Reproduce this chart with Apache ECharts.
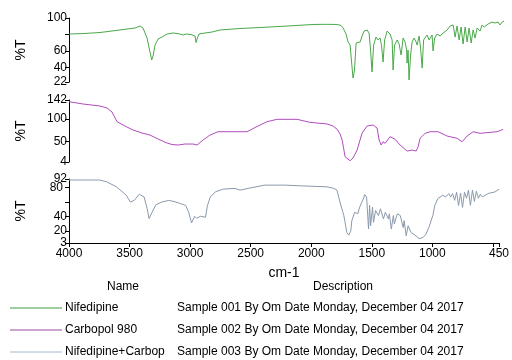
<!DOCTYPE html>
<html>
<head>
<meta charset="utf-8">
<script src="https://cdn.jsdelivr.net/npm/echarts@6/dist/echarts.min.js"></script>
<style>
  html, body { margin: 0; padding: 0; background: #fff; }
  #chart { width: 512px; height: 360px; }
</style>
</head>
<body>
<div id="chart"></div>
<script>
// FTIR spectra, wavenumber (cm-1) vs transmittance (%T)
const nifedipineWn = [4000,3886,3747,3584,3461,3420,3396,3363,3339,3325,3314,3298,3273,3241,3200,3151,3110,3069,3045,3029,3004,2988,2971,2963,2955,2939,2890,2833,2767,2604,2441,2220,2008,1910,1812,1780,1763,1739,1722,1706,1694,1682,1670,1657,1641,1624,1608,1592,1567,1551,1539,1527,1514,1494,1478,1461,1449,1437,1424,1404,1380,1363,1355,1343,1322,1306,1290,1273,1257,1245,1241,1233,1225,1212,1200,1184,1167,1159,1143,1131,1118,1106,1078,1061,1037,1029,1016,996,971,947,914,890,865,849,833,816,800,784,767,751,735,718,702,686,669,645,629,612,596,580,547,522,498,482,465,450];
const nifedipineT = [80.5,81,82.3,85.4,87.8,90.2,87.8,75.6,58.5,48.8,53.7,67,74.4,76.8,80.5,81.7,81,79.3,80.5,81.7,79.9,80.5,78,70,74.4,80.5,81.7,82.9,85.4,87.2,88.4,90.2,92.1,92.3,92.1,90.9,87.8,80.5,70.7,67,46.3,26.8,36.6,69.5,69.5,70.7,78,84.1,85.4,81.7,61,34.1,67,76.8,73.2,75.6,65.9,46.3,73.2,84.1,80.5,73.2,36.6,67,73.2,68.3,54.9,75.6,70.7,61,45.1,61,24.4,54.9,70.7,75.6,70.7,67,78,63.4,39,73.2,79.3,73.2,79.3,59.8,75.6,80.5,78,81.7,85.4,90.2,91.5,76.8,90.2,73.2,89,68.3,89,70.7,87.8,69.5,85.4,75.6,87.8,84.1,91.5,89,86.6,92.7,95.1,93.9,95.1,91.5,95.1,96.3];

const carbopolWn = [4000,3886,3747,3690,3649,3608,3543,3478,3404,3339,3273,3200,3159,3110,3053,2988,2955,2906,2849,2784,2547,2465,2384,2302,2139,2033,1894,1845,1812,1788,1771,1759,1747,1731,1706,1682,1649,1608,1567,1518,1486,1469,1453,1437,1420,1380,1339,1298,1241,1200,1167,1151,1135,1094,1053,988,914,833,792,751,702,645,588,506,457];
const carbopolT = [138.2,133.1,128.6,124.2,115.3,93.7,84.1,75.2,68.5,64,55.1,46.2,42.9,41.8,44,44,41.8,52.9,64,71.4,71.4,83,93.7,99,99,92.3,88.6,84.1,76.7,66.3,52.9,35.1,15.7,12.8,6.8,12.8,30.6,68.5,84.1,86.3,79.6,52.9,41.8,49.1,45.6,60.3,54.5,41.8,28.4,30.6,28.4,38,56.7,67.8,71.4,71.4,61.8,56.7,49.1,61.8,71.4,67.8,69.4,71.4,76.7];

const mixtureWn = [4000,3747,3690,3608,3527,3494,3461,3420,3380,3355,3339,3314,3282,3233,3176,3118,3078,3037,3012,2988,2963,2947,2914,2873,2865,2857,2833,2792,2727,2629,2588,2522,2384,2220,2090,1869,1812,1788,1763,1731,1706,1690,1673,1665,1641,1616,1600,1567,1559,1543,1527,1518,1510,1494,1486,1469,1445,1429,1404,1388,1363,1355,1339,1322,1314,1290,1265,1241,1233,1216,1200,1176,1135,1110,1078,1053,1029,996,980,955,914,890,865,849,833,816,800,784,767,751,735,718,702,686,669,653,637,620,604,588,539,482,450];
const mixtureT = [90.6,90.6,88.2,81.1,69.4,60,62.3,70.8,67,51,36.9,45.8,56.3,60,62.3,60,57.7,55.3,45.8,30.9,40.2,37.4,40.2,38.8,36.5,55.3,67,74.1,77.9,78.9,76.5,78.9,83.5,83.5,82.5,81.1,78.9,76.5,60,41.2,17.6,13.9,20,34.1,45.8,43.6,52.9,65.6,70.4,67,22.4,55.3,27,52.9,31.7,48.2,41.2,50.6,36.5,45.8,36.5,43.6,22.4,41.2,29.4,43.6,41.2,24.6,34.1,12.9,27,17.6,12.9,9.1,10.5,15.3,24.6,41.2,55.3,64.7,69.4,67,71.8,67,71.8,62.3,73.6,55.3,72.2,52.5,73.6,65.2,76.5,55.3,76.5,60.9,75,65.2,70.8,67,71.8,74.1,77.9];

const seriesNames = ['Nifedipine', 'Carbopol 980', 'Nifedipine+Carbop'];
const seriesDescriptions = [
  'Sample 001 By Om Date Monday, December 04 2017',
  'Sample 002 By Om Date Monday, December 04 2017',
  'Sample 003 By Om Date Monday, December 04 2017'
];
const xTickValues = [4000, 3500, 3000, 2500, 2000, 1500, 1000, 500, 450];
const xLabelValues = [4000, 3500, 3000, 2500, 2000, 1500, 1000, 450];
const panelRanges = [[22, 100], [4, 142], [3, 92]];
const panelTicks = [[22, 40, 60, 80, 100], [4, 50, 100, 142], [3, 20, 40, 60, 80, 92]];
const panelLabels = [[22, 40, 60, 100], [4, 50, 100, 142], [3, 20, 40, 92]];
// the 80 label of the lowest panel sits right under 92, so it gets its own axis
const crowdedLabels = [80];

const lineColors = ['#4aa84a', '#b04cbc', '#8a9aac'];
const keyColors = ['#3d9a3d', '#9a4a9e', '#a8b8cc'];

const zip = (a, b) => a.map((w, i) => [w, b[i]]);
const spectra = [
  zip(nifedipineWn, nifedipineT),
  zip(carbopolWn, carbopolT),
  zip(mixtureWn, mixtureT)
];

const FONT = 'Liberation Sans, Arial, sans-serif';
const plain = v => String(v);
const grids = [
  { left: 69, right: 8, top: 18, height: 64 },
  { left: 69, right: 8, top: 100, height: 62 },
  { left: 69, right: 8, top: 179, height: 64 }
];

const xAxes = grids.map((g, i) => ({
  gridIndex: i,
  type: 'value',
  inverse: true,
  min: 450,
  max: 4000,
  show: i === 2,
  name: i === 2 ? 'cm-1' : '',
  nameLocation: 'middle',
  nameGap: 23,
  nameTextStyle: { color: '#000', fontSize: 14, fontFamily: FONT },
  axisLine: { show: true, onZero: false, lineStyle: { color: '#000', width: 1 } },
  axisTick: { show: true, length: 4, customValues: xTickValues, lineStyle: { color: '#000' } },
  axisLabel: { customValues: xLabelValues, formatter: plain, hideOverlap: false, color: '#000', fontSize: 12, fontFamily: FONT, margin: 5 },
  splitLine: { show: false }
}));

const yAxes = grids.map((g, i) => ({
  gridIndex: i,
  type: 'value',
  min: panelRanges[i][0],
  max: panelRanges[i][1],
  name: '%T',
  nameLocation: 'middle',
  nameRotate: 90,
  nameGap: 41,
  nameTextStyle: { color: '#000', fontSize: 14, fontFamily: FONT },
  axisLine: { show: true, lineStyle: { color: '#000', width: 1 } },
  axisTick: { show: true, length: 4, customValues: panelTicks[i], lineStyle: { color: '#000' } },
  axisLabel: { customValues: panelLabels[i], formatter: plain, hideOverlap: false, showMinLabel: true, showMaxLabel: true, color: '#000', fontSize: 12, fontFamily: FONT, margin: 2 },
  splitLine: { show: false }
}));
yAxes.push({
  gridIndex: 2,
  type: 'value',
  position: 'left',
  min: panelRanges[2][0],
  max: panelRanges[2][1],
  axisLine: { show: false },
  axisTick: { show: false },
  axisLabel: { customValues: crowdedLabels, formatter: plain, color: '#000', fontSize: 12, fontFamily: FONT, margin: 6, padding: [4, 0, 0, 0] },
  splitLine: { show: false }
});

const series = spectra.map((data, i) => ({
  name: seriesNames[i],
  type: 'line',
  xAxisIndex: i,
  yAxisIndex: i,
  data: data,
  showSymbol: false,
  animation: false,
  lineStyle: { color: lineColors[i], width: 1 }
}));

// key table below the plot: Name / Description columns
const rowY = [308, 330, 352];
const graphics = [
  { type: 'text', x: 123, y: 287, style: { text: 'Name', fill: '#000', font: '12px ' + FONT, textAlign: 'center', textVerticalAlign: 'middle' } },
  { type: 'text', x: 343, y: 287, style: { text: 'Description', fill: '#000', font: '12px ' + FONT, textAlign: 'center', textVerticalAlign: 'middle' } }
];
rowY.forEach((y, i) => {
  graphics.push({ type: 'line', shape: { x1: 10, y1: y, x2: 62, y2: y }, style: { stroke: keyColors[i], lineWidth: 1 } });
  graphics.push({ type: 'text', x: 65, y: y, style: { text: seriesNames[i], fill: '#000', font: '12px ' + FONT, textVerticalAlign: 'middle' } });
  graphics.push({ type: 'text', x: 177, y: y, style: { text: seriesDescriptions[i], fill: '#000', font: '12px ' + FONT, textVerticalAlign: 'middle' } });
});

const chart = echarts.init(document.getElementById('chart'), null, { renderer: 'canvas' });
chart.setOption({
  backgroundColor: '#fff',
  animation: false,
  grid: grids,
  xAxis: xAxes,
  yAxis: yAxes,
  series: series,
  graphic: graphics
});
</script>
</body>
</html>
